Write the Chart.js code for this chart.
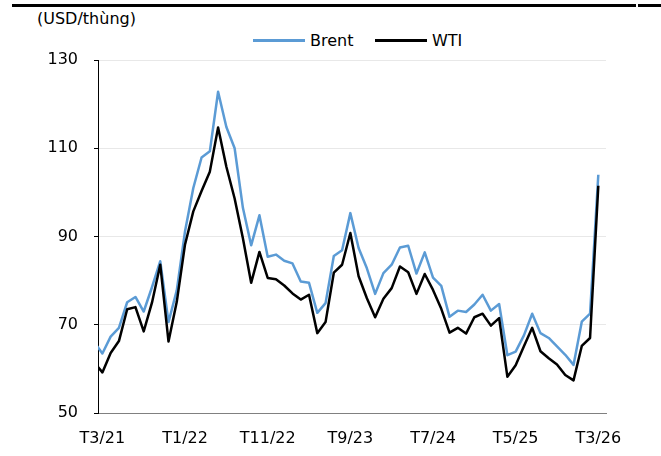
<!DOCTYPE html>
<html>
<head>
<meta charset="utf-8">
<script src="https://cdn.jsdelivr.net/npm/chart.js@4.4.1/dist/chart.umd.min.js"></script>
<style>
  html, body { margin: 0; padding: 0; background: #fff; }
  #wrap { position: relative; width: 661px; height: 456px; font-family: 'DejaVu Sans', sans-serif; color: #000; }
  #chart { position: absolute; left: 0; top: 0; }
  .rule { position: absolute; top: 4px; height: 3px; background: #000; }
  #unit { position: absolute; left: 37px; top: 9px; font-size: 16px; line-height: 19px; }
  .lg { position: absolute; top: 31px; font-size: 16px; line-height: 19px; display: flex; align-items: center; white-space: nowrap; }
  .lg i { display: inline-block; width: 52px; height: 3px; margin-right: 5px; }
</style>
</head>
<body>
<div id="wrap">
  <div class="rule" style="left:12px; width:624px"></div>
  <div class="rule" style="left:638px; width:23px"></div>
  <div id="unit">(USD/thùng)</div>
  <div id="legend"></div>
  <canvas id="chart" width="661" height="456"></canvas>
</div>
<script>
// ─── Data (month-end prices, T2/21 .. T3/26) ─────────────────────────

const TICK_POS = [1, 11, 21, 31, 41, 51, 61];
const TICK_LABELS = ['T3/21', 'T1/22', 'T11/22', 'T9/23', 'T7/24', 'T5/25', 'T3/26'];
const Y_TICKS = [50, 70, 90, 110, 130];

const brent = [
  66.1, 63.5, 67.3, 69.3, 75.1, 76.3, 73.0, 78.5, 84.4, 70.6,
  77.8, 91.2, 101.0, 107.9, 109.3, 122.8, 114.8, 110.0, 96.5, 88.0,
  94.8, 85.4, 85.9, 84.5, 83.9, 79.8, 79.5, 72.7, 74.9, 85.6,
  86.9, 95.3, 87.4, 82.8, 77.0, 81.7, 83.6, 87.5, 87.9, 81.6,
  86.4, 80.7, 78.8, 71.8, 73.2, 72.9, 74.6, 76.8, 73.2, 74.7,
  63.1, 63.9, 67.6, 72.5, 68.1, 67.0, 65.1, 63.2, 60.9, 70.7,
  72.5, 104.0
];

const wti = [
  61.5, 59.2, 63.6, 66.3, 73.5, 74.0, 68.5, 75.0, 83.6, 66.2,
  75.2, 88.2, 95.7, 100.3, 104.7, 114.7, 105.8, 98.6, 89.6, 79.5,
  86.5, 80.6, 80.3, 78.9, 77.1, 75.7, 76.8, 68.1, 70.6, 81.8,
  83.6, 90.8, 81.0, 76.0, 71.7, 75.9, 78.3, 83.2, 81.9, 77.0,
  81.5, 77.9, 73.6, 68.2, 69.3, 68.0, 71.7, 72.5, 69.8, 71.5,
  58.2, 60.8, 65.1, 69.3, 64.0, 62.4, 61.0, 58.6, 57.4, 65.2,
  67.0, 101.5
];

const SERIES = [
  { name: 'Brent', values: brent, color: '#5b9bd5', legendX: 253 },
  { name: 'WTI', values: wti, color: '#000000', legendX: 375 },
];

// ─── Helpers ─────────────────────────────────────────────────────────

const FONT = { family: "'DejaVu Sans', sans-serif", size: 16 };

function toXY(arr) {
  return arr.map((v, i) => ({ x: i, y: v }));
}

function buildLegend() {
  const box = document.getElementById('legend');
  for (const s of SERIES) {
    const d = document.createElement('div');
    d.className = 'lg';
    d.style.left = s.legendX + 'px';
    d.innerHTML = `<i style="background:${s.color}"></i>${s.name}`;
    box.appendChild(d);
  }
}

// ─── Chart ───────────────────────────────────────────────────────────

buildLegend();

new Chart(document.getElementById('chart').getContext('2d'), {
  type: 'line',
  data: {
    datasets: SERIES.map((s, k) => ({
      label: s.name,
      data: toXY(s.values),
      borderColor: s.color,
      backgroundColor: s.color,
      borderWidth: 2.5,
      borderJoinStyle: 'round',
      pointRadius: 0,
      tension: 0,
      clip: 0,
      order: SERIES.length - k,
    })),
  },
  options: {
    responsive: false,
    animation: false,
    events: [],
    layout: { padding: { left: 30, right: 55, top: 60, bottom: 0 } },
    plugins: { legend: { display: false }, tooltip: { enabled: false } },
    scales: {
      x: {
        type: 'linear',
        min: 0.47,
        max: 61.93,
        afterBuildTicks: s => { s.ticks = TICK_POS.map(v => ({ value: v })); },
        afterFit: s => { s.height = 43; },
        grid: { display: false, drawTicks: false },
        border: { display: true, color: '#808080', width: 1 },
        ticks: {
          autoSkip: false, maxRotation: 0, padding: 16, color: '#000', font: FONT,
          callback: v => TICK_LABELS[TICK_POS.indexOf(v)] ?? '',
        },
      },
      y: {
        min: 50,
        max: 130,
        afterBuildTicks: s => { s.ticks = Y_TICKS.map(v => ({ value: v })); },
        afterFit: s => { s.width = 68; },
        grid: {
          color: c => (c.tick && c.tick.value === 50) ? 'rgba(0,0,0,0)' : '#e8e8e8',
          tickColor: '#000',
          tickLength: 4,
          lineWidth: 1,
        },
        border: { color: '#000', width: 1 },
        ticks: { padding: 16, color: '#000', font: FONT },
      },
    },
  },
});
</script>
</body>
</html>
